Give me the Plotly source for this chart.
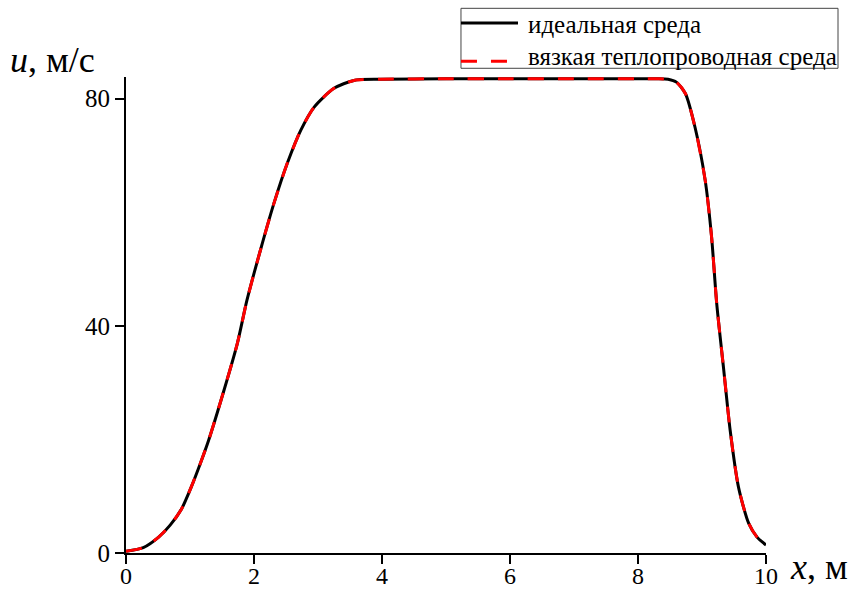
import plotly.graph_objects as go

x_m = [0, 0.27, 0.51, 0.69, 0.87, 1.03, 1.16, 1.29, 1.53, 1.74, 1.89, 2.10, 2.31, 2.52, 2.73, 2.94,
       3.25, 3.56, 3.98, 5, 6, 7, 8, 8.3, 8.47, 8.6, 8.74, 8.89, 9.05, 9.15, 9.23, 9.34,
       9.44, 9.57, 9.73, 9.86, 10.0]
u_ideal = [0.3, 0.95, 2.8, 4.9, 7.8, 11.9, 15.7, 19.8, 28.6, 36.9, 44.5, 53.3, 61.5, 68.6, 74.4, 78.5,
           81.8, 83.2, 83.4, 83.5, 83.5, 83.5, 83.5, 83.5, 83.4, 82.9, 80.9, 75.0, 65.6, 55.6, 43.9,
           32.2, 21.6, 11.6, 5.2, 2.8, 1.4]
u_viscous = [0.3, 0.95, 2.8, 4.9, 7.8, 11.9, 15.7, 19.8, 28.6, 36.9, 44.5, 53.3, 61.5, 68.6, 74.4, 78.5,
             81.8, 83.2, 83.4, 83.5, 83.5, 83.5, 83.5, 83.5, 83.4, 82.9, 80.9, 75.0, 65.6, 55.6, 43.9,
             32.2, 21.6, 11.6, 5.2, 2.8, 1.4]
x_ticks = [0, 2, 4, 6, 8, 10]
y_ticks = [0, 40, 80]
series_names = ["идеальная среда", "вязкая теплопроводная среда"]

FONT = "Liberation Serif"
DASH = "16px,14px"

fig = go.Figure()
fig.add_trace(go.Scatter(x=x_m, y=u_ideal, mode="lines", name=series_names[0],
                         line=dict(color="black", width=3, shape="spline", smoothing=0.7)))
fig.add_trace(go.Scatter(x=x_m, y=u_viscous, mode="lines", name=series_names[1],
                         line=dict(color="#ff0000", width=3, dash=DASH,
                                   shape="spline", smoothing=0.7)))

# hand-drawn legend (box, line samples, labels) placed in paper coordinates
legend_shapes = [
    dict(type="rect", xref="paper", yref="paper", x0=0.5234, x1=1.1125, y0=1.0183, y1=1.1443,
         line=dict(color="#444", width=1), fillcolor="white", layer="above"),
    dict(type="line", xref="paper", yref="paper", x0=0.5234, x1=0.6125, y0=1.1134, y1=1.1134,
         line=dict(color="black", width=3), layer="above"),
    dict(type="line", xref="paper", yref="paper", x0=0.5234, x1=0.6125, y0=1.033, y1=1.033,
         line=dict(color="#ff0000", width=3, dash=DASH), layer="above"),
]
legend_labels = [
    dict(xref="paper", yref="paper", x=0.625, y=1.1103, xanchor="left", yanchor="middle",
         showarrow=False, text=series_names[0], font=dict(family=FONT, size=25, color="black")),
    dict(xref="paper", yref="paper", x=0.625, y=1.0435, xanchor="left", yanchor="middle",
         showarrow=False, text=series_names[1], font=dict(family=FONT, size=25, color="black")),
]

fig.update_layout(
    width=856, height=590,
    margin=dict(l=126, r=90, t=77, b=37, autoexpand=False),
    paper_bgcolor="white", plot_bgcolor="white",
    font=dict(family=FONT, size=25, color="black"),
    showlegend=False,
    xaxis=dict(range=[0, 10], tickvals=x_ticks, ticks="outside", ticklen=9, tickwidth=2,
               tickcolor="black", showline=True, linecolor="black", linewidth=2,
               showgrid=False, zeroline=False, ticklabelstandoff=-9,
               tickfont=dict(family=FONT, size=24, color="black")),
    yaxis=dict(range=[0, 83.8], tickvals=y_ticks, ticks="outside", ticklen=9, tickwidth=2,
               tickcolor="black", showline=True, linecolor="black", linewidth=2,
               showgrid=False, zeroline=False,
               tickfont=dict(family=FONT, size=25, color="black")),
    shapes=legend_shapes,
    annotations=legend_labels + [
        dict(xref="paper", yref="paper", x=-0.185, y=1.035, xanchor="left", yanchor="middle",
             showarrow=False,
             text="<i>u</i>, м/с", font=dict(family=FONT, size=36, color="black")),
        dict(xref="paper", yref="paper", x=1.035, y=-0.0294, xanchor="left", yanchor="middle",
             showarrow=False,
             text="<i>x</i>, м", font=dict(family=FONT, size=36, color="black")),
    ],
)

fig.write_html("out.html")
